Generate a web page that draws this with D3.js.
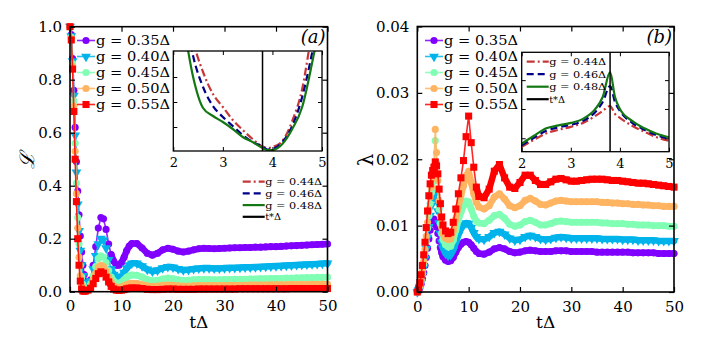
<!DOCTYPE html>
<html><head><meta charset="utf-8">
<script src="https://cdn.jsdelivr.net/npm/d3@7"></script>
<style>body{margin:0;background:#fff}text{font-family:"DejaVu Serif","Liberation Serif",serif;fill:#000}</style>
</head><body><svg id="c" width="705" height="353"></svg>
<script>
// ---------------- DATA ----------------
const gLabels = ["g = 0.35Δ","g = 0.40Δ","g = 0.45Δ","g = 0.50Δ","g = 0.55Δ"];
const colors = ["#8000ff","#00b4eb","#80ffb4","#ffb462","#ff0000"];
const markerKinds = ["circle","tri","circle","circle","square"];
const xTicks = [0,10,20,30,40,50];
const yTicksA = [0,0.2,0.4,0.6,0.8,1.0];
const yTicksB = [0,0.01,0.02,0.03,0.04];

const timeA = [0,0.25,0.5,0.75,1,1.25,1.5,1.75,2,2.25,2.5,2.75,3,3.5,4,4.5,5,5.5,6,6.5,7,7.5,8,8.5,9,9.5,10,10.5,11,11.5,12,13,14,15,16,17,18,19,20,21,22,23,24,25,26,27,28,29,30,31,32,33,34,35,36,37,38,39,40,41,42,43,44,45,46,47,48,49,50];
const cohG035 = [1.0,0.97,0.88,0.76,0.62,0.49,0.38,0.29,0.21,0.15,0.10,0.065,0.04,
 0.025,0.045,0.10,0.17,0.24,0.28,0.275,0.235,0.18,0.14,0.115,0.10,0.10,0.11,0.13,0.155,0.172,0.182,
 0.182,0.165,0.145,0.138,0.145,0.158,0.164,0.16,0.153,0.15,0.153,0.158,0.162,0.164,0.163,0.162,0.163,0.164,0.165,0.166,0.166,0.167,0.167,0.168,0.168,0.169,0.170,0.170,0.171,0.172,0.173,0.174,0.175,0.176,0.177,0.178,0.179,0.180];
const cohG040 = [1.0,0.965,0.87,0.74,0.59,0.45,0.33,0.23,0.155,0.10,0.06,0.035,0.022,
 0.02,0.04,0.085,0.135,0.18,0.2,0.195,0.165,0.12,0.085,0.065,0.055,0.052,0.058,0.072,0.088,0.1,0.107,
 0.107,0.097,0.084,0.077,0.081,0.089,0.094,0.092,0.086,0.082,0.083,0.086,0.088,0.089,0.089,0.088,0.088,0.089,0.09,0.09,0.091,0.092,0.092,0.093,0.094,0.095,0.096,0.097,0.098,0.099,0.1,0.101,0.102,0.103,0.104,0.105,0.106,0.107];
const cohG045 = [1.0,0.96,0.86,0.72,0.56,0.41,0.28,0.18,0.10,0.055,0.028,0.015,0.01,
 0.012,0.03,0.06,0.095,0.125,0.135,0.13,0.11,0.08,0.055,0.04,0.033,0.032,0.036,0.045,0.054,0.06,0.063,
 0.062,0.055,0.046,0.041,0.043,0.048,0.051,0.049,0.045,0.042,0.043,0.045,0.046,0.046,0.046,0.045,0.045,0.046,0.046,0.047,0.047,0.047,0.048,0.048,0.049,0.049,0.05,0.05,0.05,0.051,0.051,0.052,0.052,0.053,0.053,0.054,0.054,0.055];
const cohG050 = [1.0,0.955,0.85,0.70,0.53,0.37,0.24,0.13,0.06,0.025,0.01,0.006,0.005,
 0.008,0.02,0.045,0.07,0.092,0.1,0.095,0.078,0.055,0.035,0.022,0.017,0.016,0.018,0.022,0.027,0.03,0.032,
 0.031,0.027,0.022,0.02,0.021,0.024,0.025,0.024,0.022,0.021,0.021,0.022,0.023,0.023,0.023,0.023,0.023,0.023,0.024,0.024,0.024,0.024,0.025,0.025,0.025,0.025,0.026,0.026,0.026,0.026,0.027,0.027,0.027,0.027,0.028,0.028,0.028,0.028];
const cohG055 = [1.0,0.95,0.84,0.68,0.50,0.34,0.20,0.10,0.04,0.01,0.003,0.002,0.003,
 0.006,0.013,0.03,0.05,0.068,0.075,0.07,0.055,0.037,0.02,0.01,0.006,0.005,0.006,0.008,0.011,0.013,0.014,
 0.014,0.012,0.009,0.008,0.008,0.009,0.01,0.01,0.009,0.009,0.009,0.009,0.01,0.01,0.01,0.01,0.01,0.01,0.01,0.01,0.011,0.011,0.011,0.011,0.011,0.011,0.011,0.011,0.011,0.011,0.012,0.012,0.012,0.012,0.012,0.012,0.012,0.012];

const timeB = [0,0.25,0.5,0.75,1,1.25,1.5,1.75,2,2.25,2.5,2.75,3,3.25,3.5,3.75,4,4.25,4.5,4.75,5,5.5,6,6.5,7,7.5,8,8.5,9,9.5,10,10.5,11,11.5,12,13,14,15,16,17,18,19,20,21,22,23,24,25,26,27,28,29,30,31,32,33,34,35,36,37,38,39,40,41,42,43,44,45,46,47,48,49,50];
const lamG035 = [0,0.0002,0.0006,0.0012,0.002,0.0029,0.004,0.0052,0.0066,0.008,0.0093,0.0103,0.0109,0.011,0.0106,0.0098,0.0088,0.0077,0.0067,0.0059,0.0053,
 0.0048,0.0046,0.0047,0.0052,0.006,0.0067,0.0072,0.0075,0.0076,0.0075,0.0071,0.0066,0.0061,0.0058,
 0.0057,0.006,0.0065,0.0067,0.0065,0.0061,0.0059,0.006,0.0062,0.0063,0.0062,0.0061,0.0061,0.0061,0.0062,0.0062,0.0062,0.0061,0.0061,0.0061,0.0061,0.0061,0.006,0.006,0.006,0.006,0.006,0.006,0.006,0.0059,0.0059,0.0059,0.0059,0.0059,0.0058,0.0058,0.0058,0.0058];
const lamG040 = [0,0.0003,0.0008,0.0015,0.0025,0.0037,0.005,0.0065,0.0082,0.0098,0.0115,0.013,0.0142,0.0149,0.0148,0.0138,0.0122,0.0104,0.0088,0.0075,0.0066,
 0.0058,0.0055,0.0056,0.0063,0.0074,0.0086,0.0095,0.0101,0.0104,0.0103,0.0097,0.0089,0.0083,0.008,
 0.0079,0.0083,0.0089,0.0091,0.0087,0.0081,0.0078,0.0079,0.0083,0.0085,0.0083,0.008,0.0079,0.008,0.0082,0.0083,0.0082,0.0081,0.0081,0.0081,0.0081,0.0081,0.0081,0.008,0.008,0.008,0.008,0.0079,0.0079,0.0079,0.0078,0.0078,0.0078,0.0078,0.0077,0.0077,0.0077,0.0077];
const lamG045 = [0,0.0003,0.0009,0.0017,0.0028,0.0042,0.0058,0.0076,0.0096,0.0115,0.0133,0.015,0.0165,0.0185,0.0228,0.0195,0.0155,0.0125,0.0103,0.0088,0.0079,
 0.0071,0.0068,0.0069,0.0078,0.0093,0.0108,0.012,0.013,0.0137,0.0136,0.0125,0.0114,0.0107,0.0104,
 0.0103,0.0108,0.0115,0.0117,0.0111,0.0102,0.0099,0.0101,0.0106,0.0108,0.0105,0.0101,0.0101,0.0103,0.0106,0.0107,0.0106,0.0105,0.0105,0.0105,0.0105,0.0105,0.0105,0.0104,0.0104,0.0103,0.0103,0.0103,0.0102,0.0102,0.0101,0.0101,0.0101,0.01,0.01,0.01,0.0099,0.0099];
const lamG050 = [0,0.0004,0.001,0.0019,0.0031,0.0046,0.0064,0.0084,0.0105,0.0125,0.0143,0.0158,0.0172,0.019,0.0245,0.021,0.0168,0.0137,0.0113,0.0097,0.0088,
 0.0081,0.0079,0.008,0.0092,0.011,0.0128,0.0145,0.016,0.0175,0.0182,0.0165,0.0148,0.0135,0.0128,
 0.0125,0.013,0.0143,0.0148,0.014,0.013,0.0127,0.013,0.0138,0.0141,0.0137,0.0132,0.0131,0.0134,0.0137,0.0138,0.0137,0.0136,0.0136,0.0136,0.0136,0.0136,0.0136,0.0135,0.0135,0.0134,0.0134,0.0133,0.0133,0.0132,0.0132,0.0131,0.0131,0.013,0.013,0.0129,0.0129,0.0129];
const lamG055 = [0,0.0005,0.0014,0.0026,0.004,0.0056,0.0075,0.0097,0.0122,0.0145,0.0163,0.0176,0.0183,0.0188,0.0196,0.019,0.0178,0.0155,0.0133,0.0113,0.0101,
 0.0092,0.0088,0.009,0.0105,0.0125,0.0148,0.0172,0.0198,0.0234,0.0265,0.0225,0.0188,0.0158,0.0144,
 0.0142,0.0155,0.0182,0.0192,0.0172,0.0158,0.0156,0.0165,0.0176,0.0176,0.0168,0.0162,0.0162,0.0166,0.017,0.0171,0.0169,0.0167,0.0167,0.0168,0.0169,0.017,0.017,0.017,0.0169,0.0168,0.0168,0.0167,0.0166,0.0165,0.0164,0.0164,0.0163,0.0162,0.0161,0.016,0.0159,0.0158];

// insets (normalised vertical scale)
const insetLabels = ["g = 0.44Δ","g = 0.46Δ","g = 0.48Δ","t*Δ"];
const insetColors = ["#c83737","#00008b","#137813","#000000"];
const insetDash = ["8,3,2,3","7,4",null,null];
const insetXTicks = [2,3,4,5];
const tStar = 3.8;
const insetTimeA = [2.2,2.4,2.6,2.8,3.0,3.2,3.4,3.6,3.8,3.9,4.0,4.2,4.4,4.6,4.8,5.0];
const insetA044 = [1.6,1.1,0.79,0.57,0.44,0.31,0.21,0.12,0.045,0.03,0.04,0.1,0.3,0.62,1.2,1.7];
const insetA046 = [1.5,0.95,0.64,0.45,0.34,0.25,0.16,0.09,0.045,0.015,0.02,0.09,0.25,0.54,0.98,1.5];
const insetA048 = [1.3,0.74,0.43,0.35,0.29,0.22,0.14,0.09,0.03,0.01,0.01,0.07,0.22,0.44,0.88,1.4];
const insetATicksY = [0.24,0.49,0.74];
const insetTimeB = [2.0,2.25,2.5,2.75,3.0,3.25,3.5,3.65,3.8,3.9,4.0,4.25,4.5,4.75,5.0];
const insetB044 = [0.05,0.12,0.185,0.22,0.25,0.29,0.36,0.41,0.46,0.38,0.34,0.26,0.2,0.145,0.11];
const insetB046 = [0.065,0.14,0.21,0.245,0.27,0.31,0.4,0.5,0.66,0.5,0.41,0.29,0.22,0.165,0.13];
const insetB048 = [0.08,0.16,0.235,0.265,0.29,0.33,0.43,0.55,0.8,0.55,0.43,0.31,0.235,0.18,0.145];
const insetBTicksY = [0.135,0.43,0.72];

// ---------------- DRAW ----------------
const svg = d3.select("#c");
svg.append("rect").attr("width",705).attr("height",353).attr("fill","#fff");

function symbolPath(kind){
  if(kind==="square") return d3.symbol(d3.symbolSquare,50)();
  if(kind==="tri") return d3.symbol(d3.symbolTriangle,42)();
  return d3.symbol(d3.symbolCircle,40)();
}
function markerAt(sel, kind, color, px, py){
  sel.attr("d", symbolPath(kind)).attr("fill", color)
     .attr("transform", `translate(${px},${py})` + (kind==="tri" ? " rotate(180)" : ""));
}

function panel(cfg){
  const x = d3.scaleLinear().domain([0,50]).range([cfg.x0,cfg.x1]);
  const y = d3.scaleLinear().domain(cfg.ydom).range([cfg.y1,cfg.y0]);
  const g = svg.append("g");
  const line = d3.line().x(d=>x(d[0])).y(d=>y(d[1]));
  cfg.series.forEach((vals,i)=>{
    const pts = cfg.time.map((t,k)=>[t,vals[k]]);
    g.append("path").datum(pts).attr("d", line)
      .attr("fill","none").attr("stroke",colors[i]).attr("stroke-width",1.6).attr("stroke-opacity",0.85);
    // dense-marker band where the curve varies slowly
    g.append("path").datum(pts.filter(d=>d[0]>=cfg.bandFrom[i])).attr("d", line)
      .attr("fill","none").attr("stroke",colors[i]).attr("stroke-width",6.5)
      .attr("stroke-linejoin","round").attr("stroke-linecap","round");
    g.append("g").selectAll("path").data(pts).join("path")
      .each(function(d){ markerAt(d3.select(this), markerKinds[i], colors[i], x(d[0]), y(d[1])); });
  });
  const ab = g.append("g").attr("transform",`translate(0,${cfg.y1})`)
    .call(d3.axisBottom(x).tickValues(xTicks).tickSizeInner(-5).tickSizeOuter(0).tickPadding(9).tickFormat(d3.format("d")));
  const at = g.append("g").attr("transform",`translate(0,${cfg.y0})`)
    .call(d3.axisTop(x).tickValues(xTicks).tickSizeInner(-5).tickSizeOuter(0).tickFormat(""));
  const al = g.append("g").attr("transform",`translate(${cfg.x0},0)`)
    .call(d3.axisLeft(y).tickValues(cfg.yticks).tickSizeInner(-5).tickSizeOuter(0).tickPadding(8).tickFormat(d3.format(cfg.yfmt)));
  const ar = g.append("g").attr("transform",`translate(${cfg.x1},0)`)
    .call(d3.axisRight(y).tickValues(cfg.yticks).tickSizeInner(-5).tickSizeOuter(0).tickFormat(""));
  [ab,at,al,ar].forEach(a=>{ a.select(".domain").remove(); a.selectAll("line").attr("stroke","#000").attr("stroke-width",1.2);
    a.selectAll("text").attr("fill","#000").style("font-family","DejaVu Serif").style("font-size","15px"); });
  g.append("rect").attr("x",cfg.x0).attr("y",cfg.y0).attr("width",cfg.x1-cfg.x0).attr("height",cfg.y1-cfg.y0)
    .attr("fill","none").attr("stroke","#000").attr("stroke-width",1.6);
  g.append("text").attr("x",(cfg.x0+cfg.x1)/2).attr("y",328).attr("text-anchor","middle").style("font-size","17px").text("tΔ");
  g.append("text").attr("transform",`translate(${cfg.ylx},160) rotate(-90)`).attr("text-anchor","middle")
    .attr("dy","0.35em").style("font-size","20px").style("font-style",cfg.ylItalic?"italic":"normal").text(cfg.ylabel);
  g.append("text").attr("x",cfg.x1-2).attr("y",43).attr("text-anchor","end").style("font-size","18px").style("font-style","italic").text(cfg.tag);
  gLabels.forEach((lab,i)=>{
    const yy = 40.5 + i*16;
    g.append("line").attr("x1",cfg.lx).attr("x2",cfg.lx+18).attr("y1",yy).attr("y2",yy)
      .attr("stroke",colors[i]).attr("stroke-width",1.6).attr("stroke-opacity",0.85);
    markerAt(g.append("path"), markerKinds[i], colors[i], cfg.lx+9, yy);
    g.append("text").attr("x",cfg.lx+19).attr("y",yy).attr("dy","0.36em").style("font-size","13.5px")
      .attr("textLength",74).attr("lengthAdjust","spacingAndGlyphs").text(lab);
  });
}

function inset(cfg){
  const x = d3.scaleLinear().domain([2,5]).range([cfg.x0,cfg.x1]);
  const y = d3.scaleLinear().domain([0,1]).range([cfg.y1,cfg.y0]);
  const g = svg.append("g");
  g.append("rect").attr("x",cfg.x0).attr("y",cfg.y0).attr("width",cfg.x1-cfg.x0).attr("height",cfg.y1-cfg.y0).attr("fill","#fff");
  const clipId = "clip"+cfg.id;
  g.append("clipPath").attr("id",clipId).append("rect").attr("x",cfg.x0).attr("y",cfg.y0).attr("width",cfg.x1-cfg.x0).attr("height",cfg.y1-cfg.y0);
  const cg = g.append("g").attr("clip-path",`url(#${clipId})`);
  cfg.series.forEach((vals,i)=>{
    const pts = cfg.time.map((t,k)=>[t,vals[k]]);
    const p = cg.append("path").datum(pts)
      .attr("d", d3.line().curve(d3.curveMonotoneX).x(d=>x(d[0])).y(d=>y(d[1])))
      .attr("fill","none").attr("stroke",insetColors[i]).attr("stroke-width",2.2);
    if(insetDash[i]) p.attr("stroke-dasharray",insetDash[i]);
  });
  cg.append("line").attr("x1",x(tStar)).attr("x2",x(tStar)).attr("y1",cfg.y0).attr("y2",cfg.y1).attr("stroke","#000").attr("stroke-width",1.5);
  const ab = g.append("g").attr("transform",`translate(0,${cfg.y1})`)
    .call(d3.axisBottom(x).tickValues(insetXTicks).tickSizeInner(-4).tickSizeOuter(0).tickPadding(7).tickFormat(d3.format("d")));
  const at = g.append("g").attr("transform",`translate(0,${cfg.y0})`)
    .call(d3.axisTop(x).tickValues(insetXTicks).tickSizeInner(-4).tickSizeOuter(0).tickFormat(""));
  const al = g.append("g").attr("transform",`translate(${cfg.x0},0)`)
    .call(d3.axisLeft(y).tickValues(cfg.yticks).tickSizeInner(-4).tickSizeOuter(0).tickFormat(""));
  const ar = g.append("g").attr("transform",`translate(${cfg.x1},0)`)
    .call(d3.axisRight(y).tickValues(cfg.yticks).tickSizeInner(-4).tickSizeOuter(0).tickFormat(""));
  [ab,at,al,ar].forEach(a=>{ a.select(".domain").remove(); a.selectAll("line").attr("stroke","#000");
    a.selectAll("text").attr("fill","#000").style("font-family","DejaVu Serif").style("font-size","13px"); });
  g.append("rect").attr("x",cfg.x0).attr("y",cfg.y0).attr("width",cfg.x1-cfg.x0).attr("height",cfg.y1-cfg.y0)
    .attr("fill","none").attr("stroke","#000").attr("stroke-width",1.3);
  insetLabels.forEach((lab,i)=>{
    const yy = cfg.ly + i*cfg.lstep;
    const l = g.append("line").attr("x1",cfg.lx).attr("x2",cfg.lx+22).attr("y1",yy).attr("y2",yy)
      .attr("stroke",insetColors[i]).attr("stroke-width",2.2);
    if(insetDash[i]) l.attr("stroke-dasharray",insetDash[i]);
    const t = g.append("text").attr("x",cfg.lx+22.5).attr("y",yy).attr("dy","0.36em").style("font-size","9.8px").text(lab);
    if(i<3) t.attr("textLength",57).attr("lengthAdjust","spacingAndGlyphs");
  });
}

panel({x0:70,x1:327.5,y0:26.7,y1:291.7,ydom:[0,1],yticks:yTicksA,yfmt:".1f",time:timeA,bandFrom:[8,8,8,7.5,7.5],
  series:[cohG035,cohG040,cohG045,cohG050,cohG055],ylabel:"ℒ",ylItalic:true,ylx:27,tag:"(a)",lx:77});
panel({x0:417.3,x1:674,y0:26.5,y1:292,ydom:[0,0.04],yticks:yTicksB,yfmt:".2f",time:timeB,bandFrom:[4.5,5,5,5,11.5],
  series:[lamG035,lamG040,lamG045,lamG050,lamG055],ylabel:"λ",ylItalic:false,ylx:366,tag:"(b)",lx:425});
inset({id:"a",x0:173.3,x1:322,y0:51,y1:151,time:insetTimeA,series:[insetA044,insetA046,insetA048],
  yticks:insetATicksY,lx:242.7,ly:181.7,lstep:11.7});
inset({id:"b",x0:521.7,x1:669,y0:52.3,y1:151.7,time:insetTimeB,series:[insetB044,insetB046,insetB048],
  yticks:insetBTicksY,lx:526.7,ly:61.7,lstep:12.5});
</script></body></html>
